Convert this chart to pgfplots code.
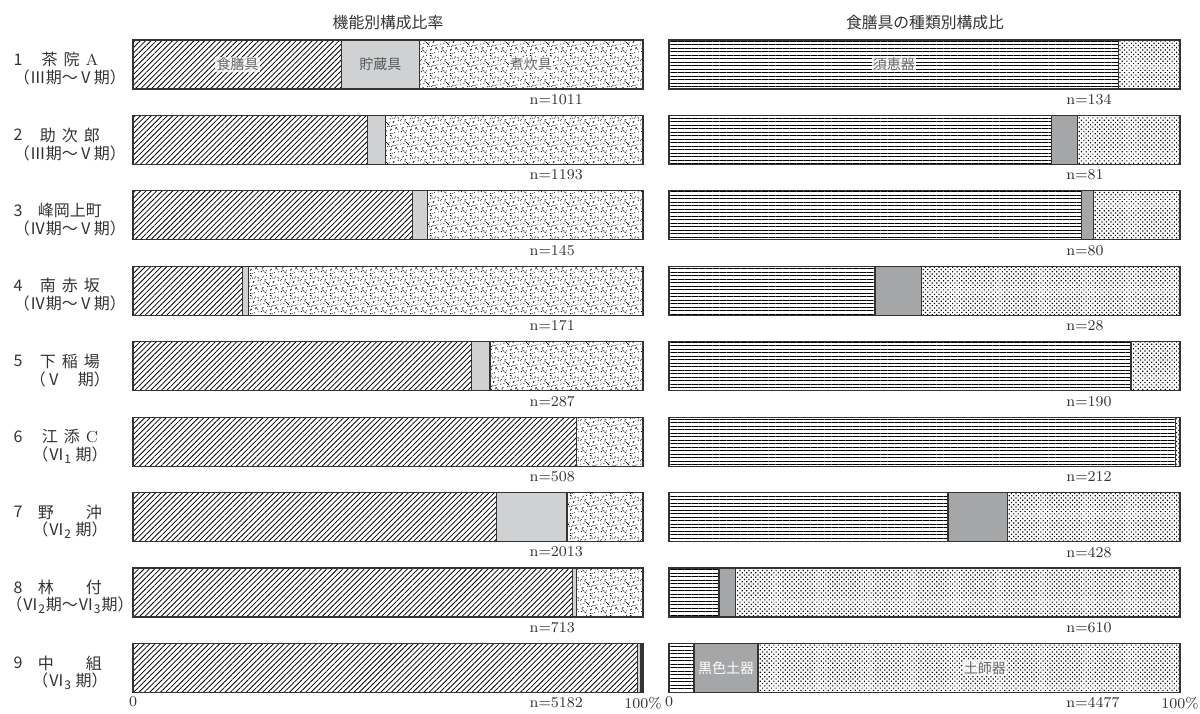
\documentclass[border=0pt]{standalone}
\usepackage{fontspec}
\usepackage{pgfplots}
\usepackage{pgfplotstable}
\pgfplotsset{compat=1.18}
\usetikzlibrary{patterns,patterns.meta}
\newfontfamily\cjk{Noto Sans CJK JP}
\definecolor{chozo}{HTML}{CFD1D2}
\definecolor{kokushoku}{HTML}{A5A6A8}
\definecolor{txt}{HTML}{333333}

% irregular stipple: jittered 7x7 grid in a 10pt tile (deterministic jitter)
\pgfdeclarepatternformonly{stipple}{\pgfqpoint{0pt}{0pt}}{\pgfqpoint{10pt}{10pt}}{\pgfqpoint{10pt}{10pt}}{%
  \foreach \i in {0,...,6}{%
    \foreach \j in {0,...,6}{%
      \pgfmathsetmacro{\px}{(\i+0.5)*10/7+0.55*sin(\i*137+\j*71)}%
      \pgfmathsetmacro{\py}{(\j+0.5)*10/7+0.55*cos(\i*53+\j*97)}%
      \pgfpathcircle{\pgfqpoint{\px pt}{\py pt}}{0.29pt}%
    }%
  }%
  \pgfusepath{fill}}

\pgfplotstableread{
row a b c
1 40.9 15.2 43.9
2 46.0 3.5 50.5
3 54.8 3.0 42.2
4 21.4 1.2 77.4
5 66.3 3.7 30.0
6 87.0 0.0 13.0
7 71.3 13.8 14.9
8 86.1 0.9 13.0
9 98.9 0.7 0.4
}\leftdata

\pgfplotstableread{
row a b c
1 88.0 0.0 12.0
2 74.9 5.0 20.1
3 80.8 2.2 17.0
4 40.3 9.1 50.6
5 90.4 0.0 9.6
6 99.1 0.0 0.9
7 54.6 11.6 33.8
8 9.8 3.2 87.0
9 4.9 12.5 82.6
}\rightdata

\pgfplotsset{
  common/.style={
    anchor=south west, scale only axis, height=333.8pt,
    xbar stacked, bar width=24.5pt,
    xmin=0, xmax=100, ymin=0.5, ymax=9.35, y dir=reverse,
    enlargelimits=false, clip=false,
    axis line style={draw=none}, major tick length=0pt,
    ytick=\empty, xtick={0,100}, xticklabels={0,100\%},
    xticklabel style={font=\fontsize{7.5}{9}\selectfont, inner sep=1pt, text=txt},
  },
  barline/.style={draw=black!80, line width=0.6pt},
}
\newcommand{\nlab}[2]{\node[anchor=west, font=\fontsize{7.5}{9}\selectfont, text=txt, inner sep=0pt, yshift=-17.5pt] at (axis cs:77.7,#1) {n=#2};}
\newcommand{\rowlab}[4]{%
  \node[font=\cjk\fontsize{8}{9}\selectfont, text=txt, inner sep=0pt, xshift=-57.5pt, yshift=2.5pt] at (axis cs:0,#1) {#2};
  \node[font=\cjk\fontsize{8}{9}\selectfont, text=txt, inner sep=0pt, xshift=-31.5pt, yshift=2.5pt] at (axis cs:0,#1) {#3};
  \node[font=\cjk\fontsize{8}{9}\selectfont, text=txt, inner sep=0pt, xshift=-31.5pt, yshift=-6.5pt] at (axis cs:0,#1) {#4};}
\tikzset{inlab/.style={font=\cjk\fontsize{7}{8}\selectfont, text=black!60, fill=white, fill opacity=0.8, text opacity=1, inner sep=0.6pt}}

\begin{document}
\begin{tikzpicture}
\useasboundingbox (0,0) rectangle (600pt,356.5pt);
\node[font=\cjk\fontsize{7.9}{9}\selectfont, text=txt] at (194pt,345pt) {機能別構成比率};
\node[font=\cjk\fontsize{7.9}{9}\selectfont, text=txt] at (462.5pt,345pt) {食膳具の種類別構成比};

\begin{axis}[common, at={(66.5pt,9.3pt)}, width=255pt]
\addplot[barline, pattern={Lines[angle=45,distance=1.9pt,line width=0.4pt]}] table[x=a,y=row] {\leftdata};
\addplot[barline, fill=chozo] table[x=b,y=row] {\leftdata};
\addplot[barline, pattern=stipple] table[x=c,y=row] {\leftdata};
\coordinate (L1) at (axis cs:20.5,1);
\coordinate (L2) at (axis cs:48.5,1);
\coordinate (L3) at (axis cs:78,1);
\nlab{1}{1011}\nlab{2}{1193}\nlab{3}{145}\nlab{4}{171}\nlab{5}{287}
\nlab{6}{508}\nlab{7}{2013}\nlab{8}{713}\nlab{9}{5182}
\rowlab{1}{1}{茶\hspace{3pt}院\hspace{3pt}{\rmfamily A}}{（Ⅲ期～Ⅴ期）}
\rowlab{2}{2}{助\hspace{3pt}次\hspace{3pt}郎}{（Ⅲ期～Ⅴ期）}
\rowlab{3}{3}{峰岡上町}{（Ⅳ期～Ⅴ期）}
\rowlab{4}{4}{南\hspace{3pt}赤\hspace{3pt}坂}{（Ⅳ期～Ⅴ期）}
\rowlab{5}{5}{下\hspace{3pt}稲\hspace{3pt}場}{（Ⅴ\hspace{1em}期）}
\rowlab{6}{6}{江\hspace{3pt}添\hspace{3pt}{\rmfamily C}}{（Ⅵ\textsubscript{1} 期）}
\rowlab{7}{7}{野\hspace{2em}沖}{（Ⅵ\textsubscript{2} 期）}
\rowlab{8}{8}{林\hspace{2em}付}{（Ⅵ\textsubscript{2}期～Ⅵ\textsubscript{3}期）}
\rowlab{9}{9}{中\hspace{2em}組}{（Ⅵ\textsubscript{3} 期）}
\end{axis}

\begin{axis}[common, at={(334.5pt,9.3pt)}, width=255.5pt]
\addplot[barline, pattern={Lines[angle=0,distance=1.75pt,line width=0.28pt]}] table[x=a,y=row] {\rightdata};
\addplot[barline, fill=kokushoku] table[x=b,y=row] {\rightdata};
\addplot[barline, pattern={Dots[angle=45,distance=1.6pt,radius=0.42pt]}] table[x=c,y=row] {\rightdata};
\coordinate (R1) at (axis cs:44,1);
\coordinate (R2) at (axis cs:11.2,9);
\coordinate (R3) at (axis cs:61.8,9);
\nlab{1}{134}\nlab{2}{81}\nlab{3}{80}\nlab{4}{28}\nlab{5}{190}
\nlab{6}{212}\nlab{7}{428}\nlab{8}{610}\nlab{9}{4477}
\end{axis}

\node[inlab] at (L1) {食膳具};
\node[inlab, fill=none, text=black!65] at (L2) {貯蔵具};
\node[inlab] at (L3) {煮炊具};
\node[inlab] at (R1) {須恵器};
\node[inlab, fill=none, text=white] at (R2) {黒色土器};
\node[inlab] at (R3) {土師器};
\end{tikzpicture}
\end{document}
